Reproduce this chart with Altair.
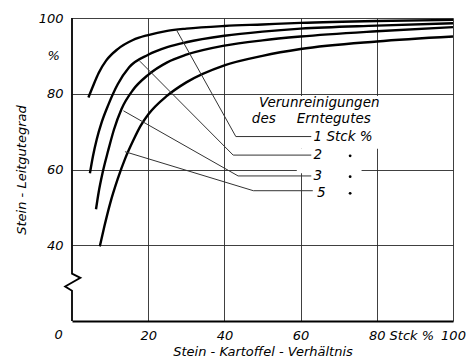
import altair as alt
import pandas as pd

# ---- curve data (Stein-Leitgutegrad vs Stein-Kartoffel-Verhältnis) ----
series_names = ["1", "2", "3", "5"]
c1_x = [4.3, 5.5, 7, 9, 12, 16, 20, 25, 30, 40, 50, 60, 80, 100]
c1_y = [79, 82, 85.5, 88.8, 91.8, 94.2, 95.5, 96.6, 97.2, 97.9, 98.3, 98.7, 99.2, 99.5]
c2_x = [4.7, 5.5, 6.5, 7.8, 9.5, 12, 15, 20, 25, 30, 40, 50, 60, 80, 100]
c2_y = [59, 63.5, 68, 72.5, 77, 82.5, 87, 90.3, 92.3, 93.6, 95.3, 96.4, 97.2, 98, 98.6]
c3_x = [6.3, 7, 8, 9.5, 11, 13, 16, 20, 25, 30, 40, 50, 60, 80, 100]
c3_y = [49.5, 54, 59, 65, 70.5, 76, 81, 85, 88.3, 90.3, 92.7, 94.1, 95.1, 96.5, 97.6]
c4_x = [7.3, 8.5, 10, 12, 14, 16, 18, 20, 25, 30, 40, 50, 60, 80, 100]
c4_y = [39.7, 45, 51, 57.5, 63, 67.5, 71.5, 74.5, 79.5, 83, 87.5, 90, 91.8, 93.8, 95.1]

# ---- leader lines from curves to labels ----
lead_1_x = [27.5, 43.0, 62.8]
lead_1_y = [96.7, 68.7, 68.7]
lead_2_x = [17.8, 42.3, 62.8]
lead_2_y = [88.6, 63.8, 63.8]
lead_3_x = [13.5, 43.6, 62.8]
lead_3_y = [75.5, 58.3, 58.3]
lead_5_x = [13.9, 47.6, 63.2]
lead_5_y = [64.7, 54.4, 54.4]

# ---- annotation texts ----
legend_text = ["Verunreinigungen", "des", "Erntegutes", "1 Stck %", "2", "3", "5"]
legend_x = [49.1, 47.2, 59.0, 63.4, 63.4, 63.4, 64.3]
legend_y = [77.5, 73.3, 73.3, 68.7, 63.8, 58.3, 53.9]
ditto_x = [73, 73, 73]
ditto_y = [63.6, 58.1, 53.7]

# left axis with break
axis_x = [0, 0, 2.2, -1.8, 0, 0]
axis_y = [100, 32.5, 31.4, 29.1, 28.0, 20]

# blanked grid area behind the legend text
blank_x = [59.0, 59.0]
blank_x2 = [84.0, 76.0]
blank_y = [79.4, 65.5]
blank_y2 = [65.5, 59.0]

x_ticks = [20, 40, 60, 80, 100]
y_ticks = [40, 60, 80, 100]

FONT = "DejaVu Sans"

rows = []
for name, xs_, ys_ in zip(series_names, [c1_x, c2_x, c3_x, c4_x], [c1_y, c2_y, c3_y, c4_y]):
    for i, (a, b) in enumerate(zip(xs_, ys_)):
        rows.append(dict(s=name, i=i, x=a, y=b))
curves = pd.DataFrame(rows)

lrows = []
for name, xs_, ys_ in zip(series_names, [lead_1_x, lead_2_x, lead_3_x, lead_5_x],
                          [lead_1_y, lead_2_y, lead_3_y, lead_5_y]):
    for i, (a, b) in enumerate(zip(xs_, ys_)):
        lrows.append(dict(s=name, i=i, x=a, y=b))
leaders = pd.DataFrame(lrows)

xscale = alt.Scale(domain=[0, 100], nice=False, zero=False)
yscale = alt.Scale(domain=[20, 100], nice=False, zero=False)

x_axis = alt.Axis(values=x_ticks, title="Stein - Kartoffel - Verhältnis", grid=True,
                  gridColor="#2a2a2a", gridWidth=0.9, ticks=False, domain=True,
                  domainColor="black", domainWidth=2, labelPadding=8, labelFlush=False,
                  labelFont=FONT, labelFontSize=13, labelFontStyle="italic", labelColor="black",
                  titleFont=FONT, titleFontSize=13, titleFontStyle="italic",
                  titleFontWeight="normal", titleColor="black", titlePadding=3)
y_axis = alt.Axis(values=y_ticks, title="Stein - Leitgutegrad", grid=True,
                  gridColor="#2a2a2a", gridWidth=0.9, ticks=False, domain=False,
                  labelPadding=9, labelFlush=False,
                  labelFont=FONT, labelFontSize=13, labelFontStyle="italic", labelColor="black",
                  titleFont=FONT, titleFontSize=13, titleFontStyle="italic",
                  titleFontWeight="normal", titleColor="black", titlePadding=10)


def X(field="x"):
    return alt.X(f"{field}:Q", scale=xscale, axis=x_axis)


def Y(field="y"):
    return alt.Y(f"{field}:Q", scale=yscale, axis=y_axis)


blank = alt.Chart(pd.DataFrame(dict(x=blank_x, x2=blank_x2, y=blank_y, y2=blank_y2))).mark_rect(
    fill="white").encode(x=X(), x2="x2:Q", y=Y(), y2="y2:Q")

curve_layer = alt.Chart(curves).mark_line(color="black", strokeWidth=2.4,
                                          interpolate="monotone").encode(
    x=X(), y=Y(), detail="s:N", order="i:Q")

leader_layer = alt.Chart(leaders).mark_line(color="#333", strokeWidth=1.0).encode(
    x=X(), y=Y(), detail="s:N", order="i:Q")

left_axis = alt.Chart(pd.DataFrame(dict(x=axis_x, y=axis_y, i=list(range(len(axis_x)))))).mark_line(
    color="black", strokeWidth=1.8).encode(x=X(), y=Y(), order="i:Q")

legend_layer = alt.Chart(pd.DataFrame(dict(x=legend_x, y=legend_y, t=legend_text))).mark_text(
    align="left", baseline="middle", font=FONT, fontSize=13.5, fontStyle="italic", color="black").encode(
    x=X(), y=Y(), text="t:N")

ditto_layer = alt.Chart(pd.DataFrame(dict(x=ditto_x, y=ditto_y))).mark_point(
    filled=True, color="black", size=8, opacity=1).encode(x=X(), y=Y())

corner_layer = alt.Chart(pd.DataFrame(dict(x=[-2.4, -3.2], y=[16.3, 90.0], t=["0", "%"]))).mark_text(
    align="right", baseline="middle", font=FONT, fontSize=13, fontStyle="italic", color="black").encode(
    x=X(), y=Y(), text="t:N")

unit_layer = alt.Chart(pd.DataFrame(dict(x=[89.2], y=[16.0], t=["Stck %"]))).mark_text(
    align="center", baseline="middle", font=FONT, fontSize=13, fontStyle="italic", color="black").encode(
    x=X(), y=Y(), text="t:N")

chart = alt.layer(blank, curve_layer, leader_layer, left_axis, legend_layer, ditto_layer,
                  corner_layer, unit_layer).properties(
    width=381, height=303,
    padding={"left": 72, "top": 18, "right": 15, "bottom": 38},
    autosize=alt.AutoSizeParams(type="none"),
    background="white",
).configure_view(strokeWidth=0)

chart.save("out.html", embed_options={"renderer": "svg", "actions": False})
